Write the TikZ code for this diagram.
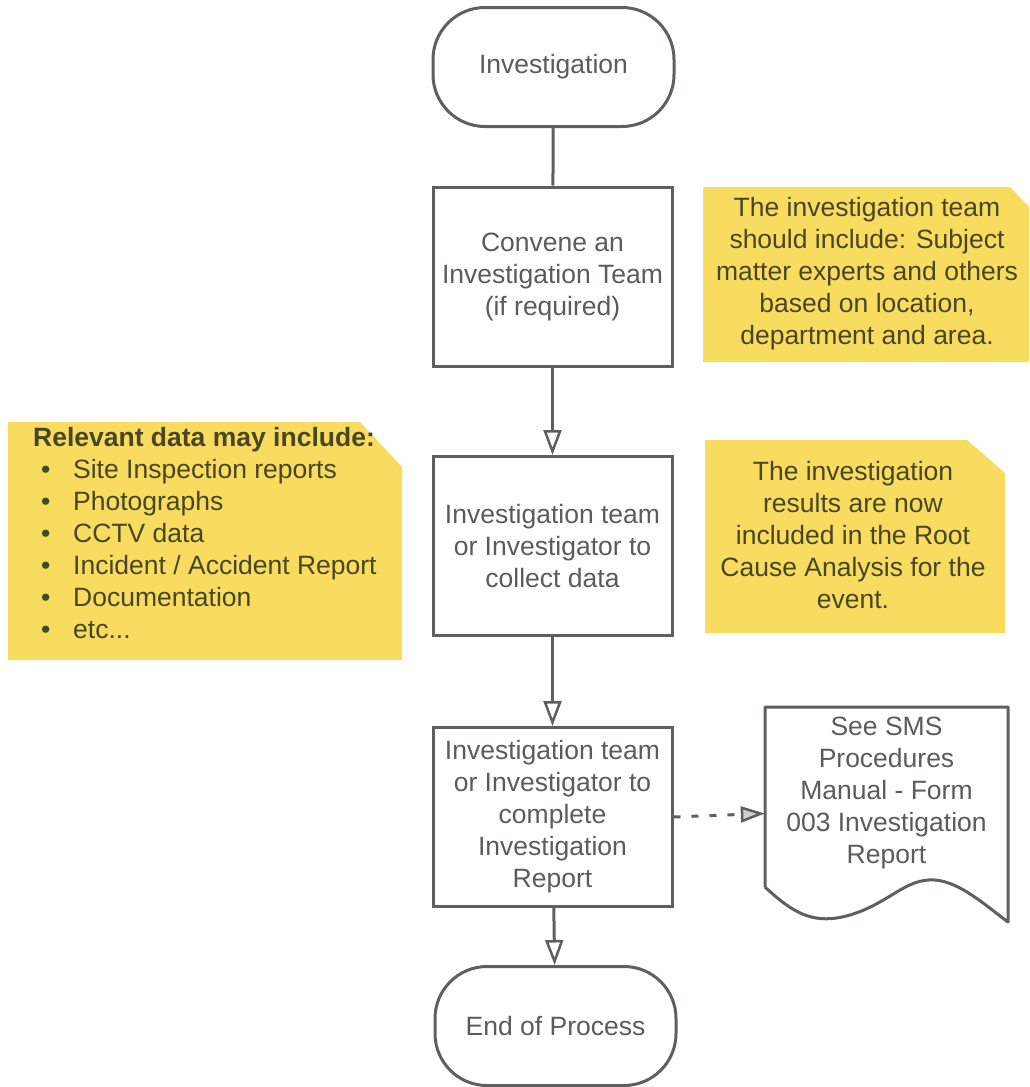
\documentclass[tikz,border=0pt]{standalone}
\usepackage{fontspec}
\setmainfont{Liberation Sans}
\usetikzlibrary{arrows.meta,positioning}

\definecolor{edge}{HTML}{5C6060}
\definecolor{boxtext}{HTML}{585C5C}
\definecolor{notefill}{HTML}{F7DC60}
\definecolor{notetext}{HTML}{4A4522}
\definecolor{tipgray}{HTML}{CFCFCF}

\tikzset{
  base/.style={font=\fontsize{26.5pt}{32pt}\selectfont, align=center, text=boxtext},
  terminal/.style={base, draw=edge, line width=3pt, rounded corners=52pt,
                   minimum width=241pt, minimum height=119pt, inner sep=0pt},
  process/.style={base, draw=edge, line width=3pt,
                  minimum width=239pt, minimum height=179pt, inner sep=0pt},
  notetxt/.style={font=\fontsize{26.5pt}{32pt}\selectfont, align=center, text=notetext},
  docframe/.style={minimum width=243pt, minimum height=213pt, inner sep=0pt},
  flow/.style={draw=edge, line width=3pt},
  flowarrow/.style={flow, -{Triangle[length=25pt,width=18pt,fill=white,line width=2.5pt]}},
  refarrow/.style={flow, dash pattern=on 7pt off 11pt,
                   -{Triangle[length=24pt,width=16pt,fill=tipgray,line width=2.5pt]}},
}

\begin{document}
\begin{tikzpicture}[x=1pt,y=-1pt]
\useasboundingbox (0,0) rectangle (1029,1087);

% yellow side notes with a clipped top-right corner
\fill[notefill] (703,187) -- (1010,187) -- (1029,207) -- (1029,362) -- (703,362) -- cycle;
\fill[notefill] (705,440) -- (967,440) -- (1005,473) -- (1005,633) -- (705,633) -- cycle;
\fill[notefill] (8,422) -- (360,422) -- (402,467) -- (402,660) -- (8,660) -- cycle;

\node[notetxt] (teamnote) at (867,274)
  {The investigation team\\should include: Subject\\matter experts and others\\based on location,\\department and area.};
\node[notetxt] (rcanote) at (853,535)
  {The investigation\\results are now\\included in the Root\\Cause Analysis for the\\event.};
\node[notetxt, align=left, anchor=north west, inner sep=0pt] (datanote) at (33,427)
  {\textbf{Relevant data may include:}\\
   \hspace*{8pt}\makebox[32pt][l]{•}Site Inspection reports\\
   \hspace*{8pt}\makebox[32pt][l]{•}Photographs\\
   \hspace*{8pt}\makebox[32pt][l]{•}CCTV data\\
   \hspace*{8pt}\makebox[32pt][l]{•}Incident / Accident Report\\
   \hspace*{8pt}\makebox[32pt][l]{•}Documentation\\
   \hspace*{8pt}\makebox[32pt][l]{•}etc...};

% main flow
\node[terminal] (start) at (553.5,67) {Investigation};
\node[process] (convene) at (552.5,276.5) {Convene an\\Investigation Team\\(if required)};
\node[process] (collect) at (552.5,546) {Investigation team\\or Investigator to\\collect data};
\node[process] (complete) at (552.5,817) {Investigation team\\or Investigator to\\complete\\Investigation\\Report};
\node[terminal] (finish) at (555.5,1026) {End of Process};

% referenced document (wavy bottom edge)
\node[docframe] (doc) at (886.5,813.5) {};
\draw[edge, line width=3pt, line join=round]
  (765,887) -- (765,707) -- (1008,707) -- (1008,922)
  .. controls (985,905) and (960,882) .. (935,880)
  .. controls (905,878) and (890,903) .. (850,915)
  .. controls (815,925) and (795,915) .. (765,887);
\node[base] (doctext) at (886.5,793)
  {See SMS\\Procedures\\Manual - Form\\003 Investigation\\Report};

% connectors
\draw[flow] (start) -- (convene);
\draw[flowarrow] (convene) -- (collect);
\draw[flowarrow] (collect) -- (complete);
\draw[flowarrow] (complete) -- (finish);
\draw[refarrow] (complete.east) -- (doc.west);
\end{tikzpicture}
\end{document}
